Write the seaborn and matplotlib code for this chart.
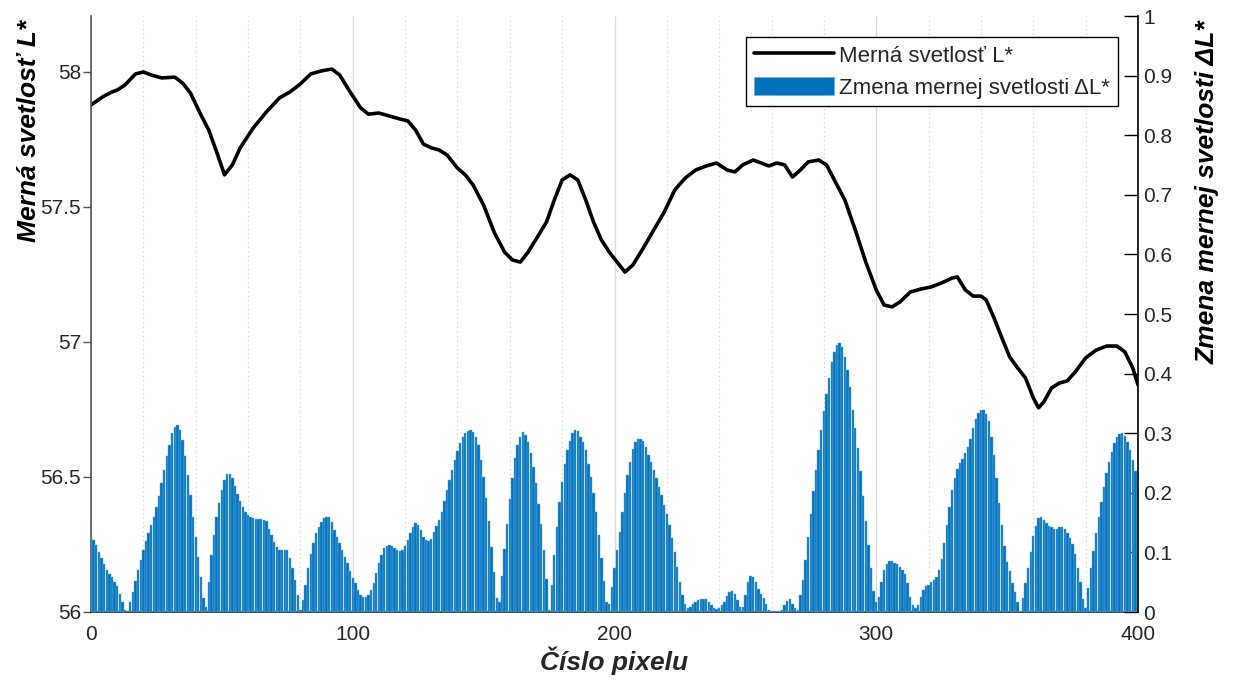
import numpy as np
import pandas as pd
import matplotlib
matplotlib.use("Agg")
import matplotlib.pyplot as plt
from matplotlib.lines import Line2D
from matplotlib.patches import Patch
from matplotlib.ticker import MultipleLocator
import seaborn as sns

# ---- data -------------------------------------------------------------
# pixel positions where the lightness profile was sampled
line_px = [0, 5, 8, 10, 13, 17, 20, 23, 27, 32, 35, 38, 42, 45, 48, 51, 54, 57,
           62, 67, 72, 76, 80, 84, 88, 92, 95, 99, 103, 106, 110, 114, 118, 121,
           124, 127, 130, 133, 136, 140, 143, 146, 150, 154, 158, 161, 164, 167,
           171, 174, 177, 180, 183, 186, 189, 192, 195, 198, 201, 204, 207, 211,
           215, 219, 223, 227, 231, 235, 239, 243, 246, 249, 253, 256, 259, 262,
           265, 268, 271, 274, 278, 281, 284, 288, 292, 296, 300, 303, 306, 309,
           313, 317, 321, 325, 329, 331, 334, 337, 340, 342, 345, 348, 351, 354,
           357, 360, 362, 364, 367, 370, 373, 376, 380, 384, 388, 392, 395, 398,
           400]
# lightness L* along the profile
lightness = [57.878, 57.911, 57.926, 57.933, 57.952, 57.993, 58.000, 57.989,
             57.978, 57.981, 57.959, 57.922, 57.841, 57.785, 57.704, 57.619,
             57.656, 57.719, 57.793, 57.852, 57.904, 57.926, 57.956, 57.993,
             58.004, 58.011, 57.989, 57.926, 57.867, 57.844, 57.848, 57.837,
             57.826, 57.819, 57.785, 57.733, 57.719, 57.711, 57.693, 57.644,
             57.619, 57.581, 57.507, 57.407, 57.333, 57.304, 57.296, 57.333,
             57.396, 57.444, 57.526, 57.600, 57.619, 57.600, 57.526, 57.444,
             57.378, 57.333, 57.296, 57.259, 57.285, 57.348, 57.415, 57.481,
             57.563, 57.607, 57.637, 57.652, 57.663, 57.637, 57.630, 57.656,
             57.674, 57.663, 57.652, 57.663, 57.656, 57.611, 57.637, 57.667,
             57.674, 57.656, 57.600, 57.526, 57.415, 57.296, 57.193, 57.137,
             57.130, 57.148, 57.185, 57.196, 57.204, 57.219, 57.237, 57.241,
             57.193, 57.170, 57.170, 57.156, 57.089, 57.015, 56.944, 56.904,
             56.867, 56.793, 56.756, 56.778, 56.830, 56.848, 56.856, 56.889,
             56.941, 56.970, 56.985, 56.985, 56.963, 56.904, 56.841]

# change of lightness dL* for every pixel 0..400
pixel_idx = list(range(401))
delta_L = [
    .124, .120, .112, .100, .090, .080, .070, .063, .058, .050,   # 0
    .043, .030, .017, .004, .000, .017, .034, .052, .070, .088,   # 10
    .104, .119, .132, .146, .160, .177, .195, .216, .238, .261,   # 20
    .281, .300, .311, .314, .305, .288, .262, .230, .197, .160,   # 30
    .126, .093, .058, .023, .008, .051, .095, .130, .160, .183,   # 40
    .205, .222, .231, .232, .225, .212, .198, .186, .176, .168,   # 50
    .163, .159, .157, .156, .156, .156, .155, .152, .140, .129,   # 60
    .118, .109, .104, .104, .104, .104, .090, .073, .054, .028,   # 70
    .003, .020, .045, .073, .098, .115, .132, .143, .151, .157,   # 80
    .160, .160, .151, .137, .126, .115, .104, .093, .082, .069,   # 90
    .057, .048, .037, .028, .026, .026, .028, .037, .048, .065,   # 100
    .082, .096, .107, .110, .112, .110, .107, .104, .102, .104,   # 110
    .110, .121, .132, .143, .149, .146, .137, .126, .121, .119,   # 120
    .123, .135, .145, .155, .168, .187, .205, .221, .238, .255,   # 130
    .270, .283, .294, .301, .304, .305, .302, .294, .280, .255,   # 140
    .227, .192, .153, .109, .067, .024, .017, .060, .105, .148,   # 150
    .190, .225, .258, .280, .294, .302, .297, .285, .266, .244,   # 160
    .216, .182, .148, .104, .056, .003, .046, .096, .143, .184,   # 170
    .218, .248, .272, .287, .300, .305, .303, .294, .285, .272,   # 180
    .249, .227, .199, .167, .129, .091, .052, .017, .014, .042,   # 190
    .073, .104, .134, .168, .199, .230, .252, .273, .286, .291,   # 200
    .291, .287, .277, .264, .252, .238, .225, .210, .196, .180,   # 210
    .164, .146, .125, .101, .076, .051, .028, .013, .007, .009,   # 220
    .013, .016, .020, .022, .022, .021, .017, .012, .007, .005,   # 230
    .006, .011, .017, .027, .034, .036, .031, .020, .008, .008,   # 240
    .028, .051, .060, .059, .051, .039, .031, .023, .013, .003,   # 250
    .002, .002, .002, .002, .003, .012, .019, .022, .013, .006,   # 260
    .004, .028, .053, .087, .126, .164, .203, .239, .272, .305,   # 270
    .337, .365, .393, .420, .437, .448, .452, .445, .428, .406,   # 280
    .378, .339, .308, .275, .236, .194, .152, .113, .073, .035,   # 290
    .017, .026, .051, .070, .080, .085, .085, .083, .080, .076,   # 300
    .070, .063, .048, .026, .012, .006, .012, .026, .037, .043,   # 310
    .045, .050, .054, .059, .070, .089, .115, .146, .177, .205,   # 320
    .224, .240, .250, .257, .266, .277, .291, .308, .324, .334,   # 330
    .339, .339, .333, .320, .294, .263, .224, .183, .146, .111,   # 340
    .084, .068, .049, .033, .016, .002, .023, .048, .073, .101,   # 350
    .127, .144, .157, .159, .155, .149, .144, .142, .140, .140,   # 360
    .142, .142, .139, .132, .125, .114, .098, .073, .051, .021,   # 370
    .006, .040, .073, .103, .132, .160, .185, .209, .233, .252,   # 380
    .269, .283, .293, .299, .300, .295, .286, .272, .255, .236,   # 390
    .210,                                                          # 400
]

x_ticks = [0, 100, 200, 300, 400]
left_ticks = [56, 56.5, 57, 57.5, 58]
left_labels = ["56", "56.5", "57", "57.5", "58"]
right_ticks = [0, 0.1, 0.2, 0.3, 0.4, 0.5, 0.6, 0.7, 0.8, 0.9, 1]
right_labels = ["0", "0.1", "0.2", "0.3", "0.4", "0.5", "0.6", "0.7", "0.8", "0.9", "1"]

x_label = "Číslo pixelu"
left_label = "Merná svetlosť L*"
right_label = "Zmena mernej svetlosti ΔL*"
legend_labels = ["Merná svetlosť L*", "Zmena mernej svetlosti ΔL*"]

# ---- style ------------------------------------------------------------
sns.set_theme(style="white")
plt.rcParams["font.family"] = ["Liberation Sans", "DejaVu Sans"]

BLUE = "#0072BD"
EDGE = "#6aaee0"
TXT = "#262626"

fig = plt.figure(figsize=(12.34, 6.86), dpi=100)
ax = fig.add_axes([91 / 1234, 1 - 612 / 686, 1047 / 1234, 596 / 686])
ax2 = ax.twinx()

# bars on the right axis
sns.barplot(x=pixel_idx, y=delta_L, native_scale=True, ax=ax2, color=BLUE,
            saturation=1, width=0.9, errorbar=None,
            edgecolor=EDGE, linewidth=0.35)

# lightness profile on the left axis
line = sns.lineplot(x=line_px, y=lightness, ax=ax, color="black",
                    linewidth=2.6, sort=False)
for ln in ax.get_lines():
    ln.set_solid_joinstyle("round")
    ln.set_solid_capstyle("round")

ax.set_xlim(0, 400)
ax.set_ylim(56, 58 + 56 / 270)
ax2.set_ylim(0, 1)

# vertical grid only
ax.set_xticks(x_ticks)
ax.set_xticklabels([str(t) for t in x_ticks])
ax.xaxis.set_minor_locator(MultipleLocator(20))
ax.grid(False)
ax.grid(True, which="major", axis="x", color="#dcdcdc", linewidth=1.0)
ax.grid(True, which="minor", axis="x", color="#c8c8c8", linewidth=0.8,
        linestyle=(0, (1, 3)))
ax2.grid(False)

ax.set_yticks(left_ticks)
ax.set_yticklabels(left_labels)
ax2.set_yticks(right_ticks)
ax2.set_yticklabels(right_labels)

ax.tick_params(axis="x", which="major", direction="in", length=8, width=1,
               color=TXT, labelsize=15, labelcolor=TXT, pad=9)
ax.tick_params(axis="x", which="minor", length=0)
ax.tick_params(axis="y", direction="out", length=6, width=1, color="#555555",
               labelsize=15, labelcolor=TXT, pad=1, left=True)
ax2.tick_params(axis="y", direction="in", length=10, width=1, color="black",
                labelsize=15, labelcolor=TXT, pad=4, right=True)
ax2.tick_params(axis="x", length=0)

for s in ["top", "right"]:
    ax.spines[s].set_visible(False)
for s in ["top", "left", "bottom"]:
    ax2.spines[s].set_visible(False)
ax.spines["left"].set_color("#555555")
ax.spines["left"].set_linewidth(1.2)
ax.spines["bottom"].set_color(TXT)
ax.spines["bottom"].set_linewidth(1.2)
ax2.spines["right"].set_color("black")
ax2.spines["right"].set_linewidth(1.2)

label_font = dict(fontsize=19, fontweight="bold", style="italic")
ax.set_xlabel(x_label, color=TXT, **label_font)
ax.xaxis.set_label_coords(0.5, -0.058)
ax.set_ylabel(left_label, color="black", **label_font)
ax.yaxis.set_label_coords(-0.048, 0.807)
ax2.set_xlabel("")
ax2.set_ylabel(right_label, color="black", **label_font)
ax2.yaxis.set_label_coords(1.055, 0.704)

handles = [Line2D([0], [0], color="black", linewidth=2.6),
           Patch(facecolor=BLUE, edgecolor=EDGE, linewidth=0.5)]
leg = ax2.legend(handles, legend_labels, loc="upper right",
                 bbox_to_anchor=(1118 / 1234, 1 - 37 / 686),
                 bbox_transform=fig.transFigure, borderaxespad=0,
                 fontsize=16, frameon=True, fancybox=False, shadow=False,
                 framealpha=1, edgecolor="black", handlelength=3.6,
                 handleheight=0.9, handletextpad=0.25, labelspacing=0.45,
                 borderpad=0.35)
leg.get_frame().set_linewidth(1.0)
for t in leg.get_texts():
    t.set_color(TXT)

fig.savefig("out.png", dpi=100)
